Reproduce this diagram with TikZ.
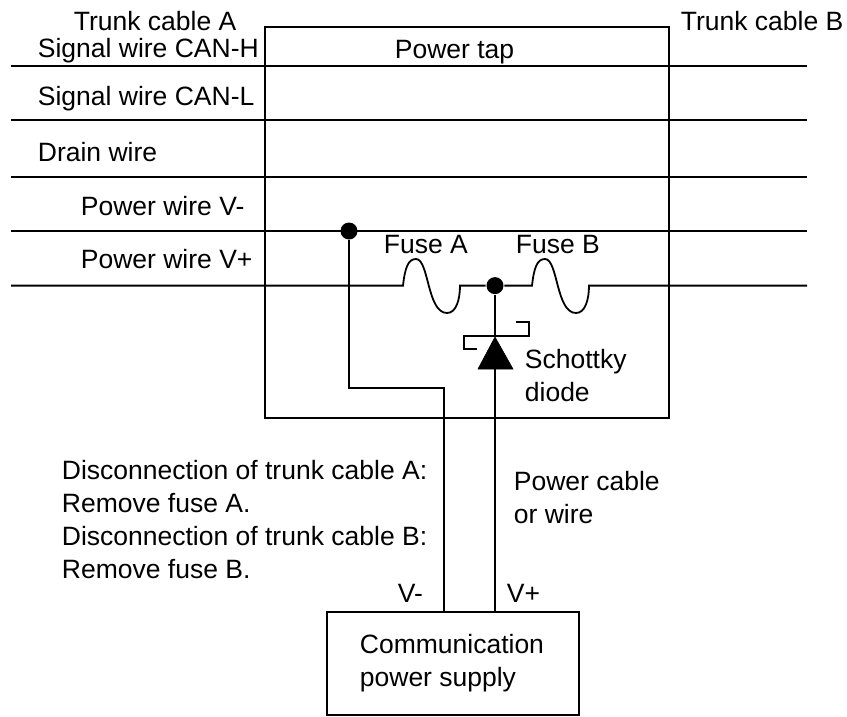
\documentclass[tikz,border=0pt]{standalone}
\usepackage{fontspec}
\setmainfont{Liberation Sans}
\usetikzlibrary{calc}
\begin{document}
\begin{tikzpicture}[x=1pt,y=-1pt,line width=1.8pt,
        lbl/.style={font=\fontsize{26.5}{30}\selectfont,inner sep=0pt,anchor=base west},
        joint/.style={circle,fill=black,inner sep=0pt,minimum size=17pt}]
        \useasboundingbox (0,0) rectangle (847,716);
        % power tap and supply
        \node[draw,minimum width=404pt,minimum height=391pt,inner sep=0pt] (tap) at (467,222.5) {};
        \node[draw,minimum width=252pt,minimum height=103pt,inner sep=0pt] (psu) at (453,663.5) {};
        % trunk wires
        \coordinate (hl) at (11,66);  \coordinate (hr) at (807,66);
        \coordinate (ll) at (11,120); \coordinate (lr) at (807,120);
        \coordinate (dl) at (11,177); \coordinate (dr) at (807,177);
        \coordinate (nl) at (11,231); \coordinate (nr) at (807,231);
        \coordinate (pl) at (11,285.6); \coordinate (pr) at (807,285.6);
        \draw (hl) -- (hr);
        \draw (ll) -- (lr);
        \draw (dl) -- (dr);
        \draw (nl) -- (nr);
        \node[joint] (jn) at (349,231) {};
        \node[joint] (jp) at (495,285.6) {};
        % fuses
        \coordinate (fa) at (403,285.6);
        \coordinate (fb) at (460,285.6);
        \coordinate (fc) at (532,285.6);
        \coordinate (fd) at (589,285.6);
        \draw (pl) -- (fa) .. controls (405,268) and (408,259) .. (416,259)
          .. controls (429,259) and (427,313) .. (447,313)
          .. controls (456,313) and (460,300) .. (fb) -- (jp) -- (fc)
          .. controls (534,268) and (537,259) .. (545,259)
          .. controls (558,259) and (556,313) .. (576,313)
          .. controls (585,313) and (589,300) .. (fd) -- (pr);
        % diode
        \coordinate (da) at (495,337);
        \coordinate (dk) at (495,369);
        \draw[fill=black,line width=0.6pt] (da) -- (478,369) -- (513,369) -- cycle;
        \draw (477,349) -- (464,349) -- (464,336) -- (529,336) -- (529,322) -- (516,322);
        % cables
        \draw (jn) |- (444,388) -- (444,612);
        \draw (jp) -- (da);
        \draw (dk) -- (495,612);
        % labels
        \node[lbl] (ta) at (73,30) {Trunk cable A};
        \node[lbl] (tb) at (680,30) {Trunk cable B};
        \node[lbl] (can) at (37,57) {Signal wire CAN-H};
        \node[lbl] (cal) at (37,105) {Signal wire CAN-L};
        \node[lbl] (drn) at (37,161) {Drain wire};
        \node[lbl] (vm) at (80,215) {Power wire V-};
        \node[lbl] (vp) at (80,268) {Power wire V+};
        \node[lbl] (tap label) at (394,58) {Power tap};
        \node[lbl] (fal) at (383,253) {Fuse A};
        \node[lbl] (fbl) at (515,253) {Fuse B};
        \node[lbl] (sch) at (524,368) {Schottky};
        \node[lbl] (dio) at (524,401) {diode};
        \node[lbl] (n1) at (61,479) {Disconnection of trunk cable A:};
        \node[lbl] (n2) at (61,512) {Remove fuse A.};
        \node[lbl] (n3) at (61,545) {Disconnection of trunk cable B:};
        \node[lbl] (n4) at (61,578) {Remove fuse B.};
        \node[lbl] (pc) at (513,490) {Power cable};
        \node[lbl] (pw) at (513,523) {or wire};
        \node[lbl] (vmb) at (397,602) {V-};
        \node[lbl] (vpb) at (506,602) {V+};
        \node[lbl] (c1) at (359,653) {Communication};
        \node[lbl] (c2) at (359,686) {power supply};
\end{tikzpicture}
\end{document}
